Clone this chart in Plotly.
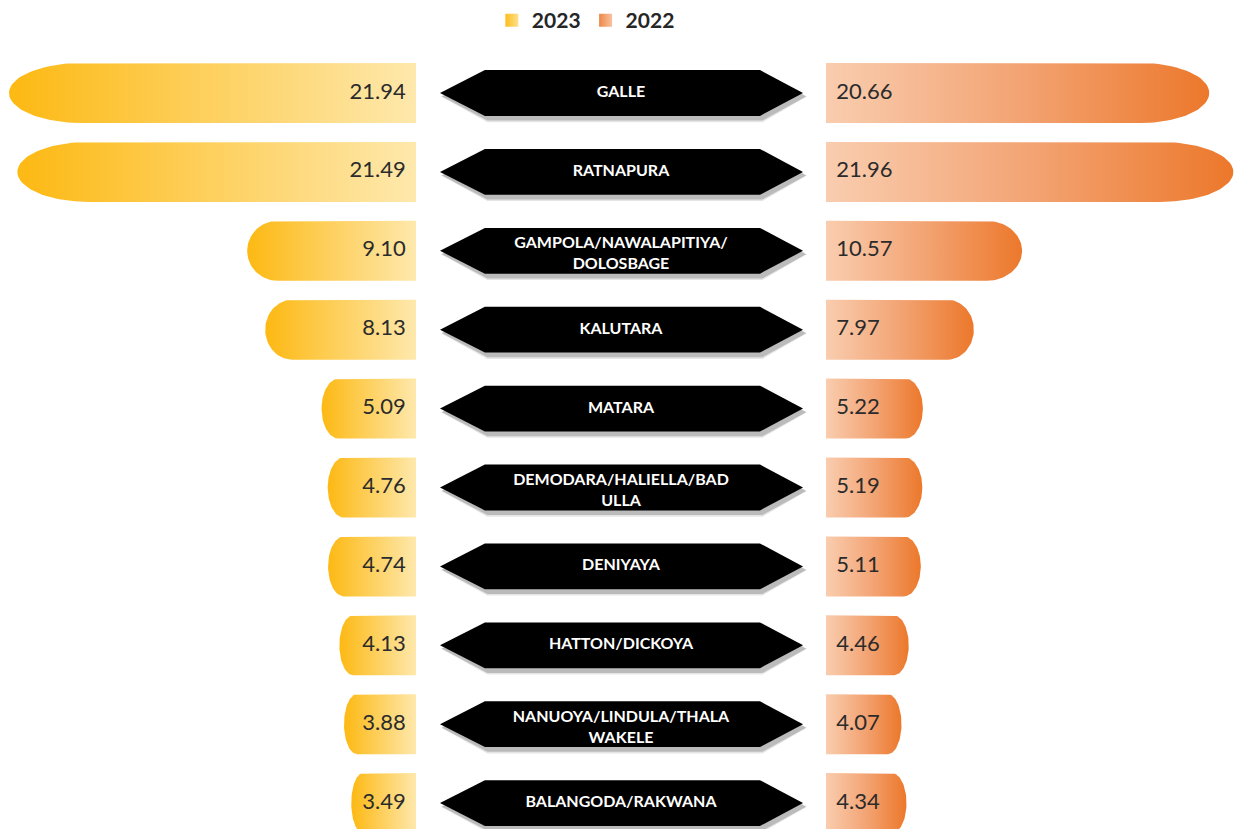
import numpy as np
import plotly.graph_objects as go

# ---------------- data ----------------
regions = ["GALLE", "RATNAPURA", "GAMPOLA/NAWALAPITIYA/<br>DOLOSBAGE", "KALUTARA", "MATARA",
           "DEMODARA/HALIELLA/BAD<br>ULLA", "DENIYAYA", "HATTON/DICKOYA",
           "NANUOYA/LINDULA/THALA<br>WAKELE", "BALANGODA/RAKWANA"]
values_2023 = [21.94, 21.49, 9.10, 8.13, 5.09, 4.76, 4.74, 4.13, 3.88, 3.49]
values_2022 = [20.66, 21.96, 10.57, 7.97, 5.22, 5.19, 5.11, 4.46, 4.07, 4.34]
series_names = ["2023", "2022"]

# ---------------- style ----------------
# gradients run left -> right in screen space
scale_2023 = [[0, "#FDB913"], [1, "#FEE8AC"]]
scale_2022 = [[0, "#F9CDAF"], [0.5, "#F3A474"], [1, "#EC782B"]]
BAR_H = 0.38      # half bar height (row units)
END_K = 0.18      # rounded end length as share of bar length
ARROW_H = 0.29
FONT = "Lato"

fig = go.Figure()


def bar_outline(v, c):
    rx = END_K * v
    t = np.linspace(-np.pi / 2, np.pi / 2, 48)
    xs = [0.0] + list(v - rx + rx * np.cos(t)) + [0.0, 0.0]
    ys = [c - BAR_H] + list(c + BAR_H * np.sin(t)) + [c + BAR_H, c - BAR_H]
    return xs, ys


def arrow_outline(c, dx=0.0, dy=0.0, grow=0.0):
    a = ARROW_H + grow
    xs = [0.0585 - grow * 0.1, 0.168, 0.839, 0.944 + grow * 0.1, 0.839, 0.168, 0.0585 - grow * 0.1]
    ys = [c, c - a, c - a, c, c + a, c + a, c]
    return [x + dx for x in xs], [y + dy for y in ys]


# arrows (center labels) with soft shadow
for i, _ in enumerate(regions):
    for grow, op in [(0.035, 0.10), (0.015, 0.18)]:
        xs, ys = arrow_outline(i, dx=0.006, dy=0.045, grow=grow)
        fig.add_trace(go.Scatter(x=xs, y=ys, xaxis="x3", yaxis="y", mode="lines",
                                 fill="toself", fillcolor=f"rgba(0,0,0,{op})",
                                 line=dict(width=0), hoverinfo="skip", showlegend=False))
    xs, ys = arrow_outline(i)
    fig.add_trace(go.Scatter(x=xs, y=ys, xaxis="x3", yaxis="y", mode="lines",
                             fill="toself", fillcolor="#000000",
                             line=dict(width=0), hoverinfo="skip", showlegend=False))

# bars
for vals, axis, cs in [(values_2023, "x", scale_2023), (values_2022, "x2", scale_2022)]:
    for i, v in enumerate(vals):
        xs, ys = bar_outline(v, i)
        fig.add_trace(go.Scatter(x=xs, y=ys, xaxis=axis, yaxis="y", mode="lines",
                                 fill="toself",
                                 fillgradient=dict(type="horizontal", colorscale=cs),
                                 line=dict(width=0), hoverinfo="skip", showlegend=False))

idx = list(range(len(regions)))

# value labels
fig.add_trace(go.Scatter(x=[0.55] * len(idx), y=idx, xaxis="x", yaxis="y", mode="text",
                         text=[f"{v:.2f}" for v in values_2023], textposition="middle left",
                         textfont=dict(family=FONT, size=22, color="#2B2B2B"),
                         hoverinfo="skip", showlegend=False))
fig.add_trace(go.Scatter(x=[0.55] * len(idx), y=idx, xaxis="x2", yaxis="y", mode="text",
                         text=[f"{v:.2f}" for v in values_2022], textposition="middle right",
                         textfont=dict(family=FONT, size=22, color="#2B2B2B"),
                         hoverinfo="skip", showlegend=False))

# region labels
fig.add_trace(go.Scatter(x=[0.5] * len(idx), y=[i + (0.05 if "<br>" in r else 0) for i, r in enumerate(regions)],
                         xaxis="x3", yaxis="y", mode="text", text=regions,
                         textposition="middle center",
                         textfont=dict(family=FONT, size=16, color="#FFFFFF", weight=700),
                         hoverinfo="skip", showlegend=False))

# legend entries
for name, col, gcol in [(series_names[0], "#FDBD1F", "#FEE08A"), (series_names[1], "#EE8747", "#F8C3A0")]:
    fig.add_trace(go.Scatter(x=[None], y=[None], xaxis="x", yaxis="y", mode="markers", name=name,
                             marker=dict(symbol="square", size=13, color=col,
                                         gradient=dict(type="horizontal", color=gcol),
                                         line=dict(width=0))))

W, H = 1236, 829
fig.update_layout(
    width=W, height=H,
    margin=dict(l=0, r=0, t=0, b=0),
    paper_bgcolor="white", plot_bgcolor="white",
    showlegend=True,
    legend=dict(orientation="h", x=0.474, xanchor="center", y=1.0, yanchor="top",
                font=dict(family=FONT, size=21, color="#262626", weight=700),
                bgcolor="rgba(0,0,0,0)", itemwidth=30, tracegroupgap=0),
    xaxis=dict(domain=[0, 416 / W], range=[416 / 18.55, 0], visible=False, fixedrange=True),
    xaxis2=dict(domain=[826 / W, 1], range=[0, 410 / 18.55], visible=False, anchor="y", fixedrange=True),
    xaxis3=dict(domain=[416 / W, 826 / W], range=[0, 1], visible=False, anchor="y", fixedrange=True),
    yaxis=dict(domain=[0, 1], range=[(829 - 93) / 78.9, -93 / 78.9], visible=False, fixedrange=True),
)

fig.write_html("out.html", config={"displayModeBar": False},
               post_script="document.body.style.margin='0';document.body.style.overflow='hidden';")
